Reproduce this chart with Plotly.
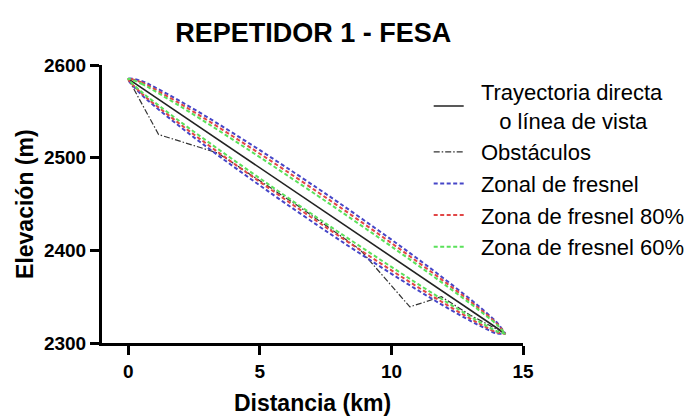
import plotly.graph_objects as go

# Line of sight (trayectoria directa)
los_x = [0.0, 14.33]
los_y = [2585.0, 2310.0]

# Obstacle profile
obs_x = [0.0, 1.15, 3.4, 5.0, 6.5, 8.0, 8.8, 10.7, 11.5, 11.9, 13.0, 14.33]
obs_y = [2585, 2525, 2505, 2475, 2447, 2417, 2401, 2339, 2346, 2350, 2330, 2310]

# First Fresnel zone radius (vertical offset from the line of sight)
fz_x = [0.0, 0.5, 1.0, 2.0, 3.0, 4.0, 5.0, 6.0, 7.17, 8.0, 9.0, 10.0, 11.0, 12.0, 13.0, 13.5, 14.0, 14.33]
fz_r = [0.0, 7.3, 10.2, 13.9, 16.3, 17.9, 19.0, 19.7, 20.0, 19.9, 19.3, 18.4, 16.9, 14.7, 11.6, 9.3, 6.0, 0.0]
zone_fracs = [1.0, 0.8, 0.6]

x_ticks = [0, 5, 10, 15]
y_ticks = [2300, 2400, 2500, 2600]

names = ["Zonal de fresnel", "Zona de fresnel 80%", "Zona de fresnel 60%"]
colors = ["rgb(70,70,200)", "rgb(225,70,70)", "rgb(90,225,90)"]

def los_at(x):
    return los_y[0] + (los_y[1] - los_y[0]) * (x - los_x[0]) / (los_x[1] - los_x[0])

NB = "\u00a0"
fig = go.Figure()

fig.add_trace(go.Scatter(x=los_x, y=los_y, mode="lines",
                         line=dict(color="#222222", width=1.6),
                         name=NB * 2 + "Trayectoria directa<br>" + NB * 5 + "o línea de vista"))
fig.add_trace(go.Scatter(x=obs_x, y=obs_y, mode="lines",
                         line=dict(color="#333333", width=1.2, dash="6px,2px,1.5px,2px"),
                         name=NB * 2 + "Obstáculos"))

for frac, nm, col in zip(zone_fracs, names, colors):
    up_y = [los_at(x) + frac * r for x, r in zip(fz_x, fz_r)]
    lo_y = [los_at(x) - frac * r for x, r in zip(fz_x, fz_r)]
    xs = fz_x + fz_x[::-1]
    ys = up_y + lo_y[::-1]
    fig.add_trace(go.Scatter(x=xs, y=ys, mode="lines", line_shape="spline",
                             line=dict(color=col, width=2, dash="4px,2.5px"),
                             name=NB * 2 + nm))

font_fam = "Liberation Sans, Arial, sans-serif"

fig.update_layout(
    width=694, height=416,
    margin=dict(l=94, r=179, t=57, b=81),
    paper_bgcolor="white", plot_bgcolor="white",
    title=dict(text="<b>REPETIDOR 1 - FESA</b>", x=0.440, xanchor="center",
               y=0.942, yanchor="middle", font=dict(family=font_fam, size=27, color="black")),
    font=dict(family=font_fam, color="black"),
    showlegend=True,
    legend=dict(x=0.776, y=0.979, xanchor="left", yanchor="top",
                bgcolor="rgba(0,0,0,0)", font=dict(size=22, family=font_fam),
                tracegroupgap=0),
    annotations=[dict(text="<b>Elevación (m)</b>", textangle=-90, xref="paper", yref="paper",
                      x=-0.183, y=0.5, xanchor="center", yanchor="middle", showarrow=False,
                      font=dict(family=font_fam, size=23, color="black"))],
)

fig.update_xaxes(range=[-1, 15], tickvals=x_ticks, ticktext=[f"<b>{t}</b>" for t in x_ticks],
                 showline=True, linecolor="black", linewidth=3, mirror=False,
                 ticks="outside", tickwidth=3, ticklen=9, tickcolor="black",
                 showgrid=False, zeroline=False, tickfont=dict(size=19), automargin=False,
                 title=dict(text="<b>Distancia (km)</b>", font=dict(size=23), standoff=15))
fig.update_yaxes(range=[2300, 2600], tickvals=y_ticks, ticktext=[f"<b>{t}</b>" for t in y_ticks],
                 showline=True, linecolor="black", linewidth=3, mirror=False,
                 ticks="outside", tickwidth=3, ticklen=9, tickcolor="black",
                 showgrid=False, zeroline=False, tickfont=dict(size=19), automargin=False)

fig.write_html("out.html")
